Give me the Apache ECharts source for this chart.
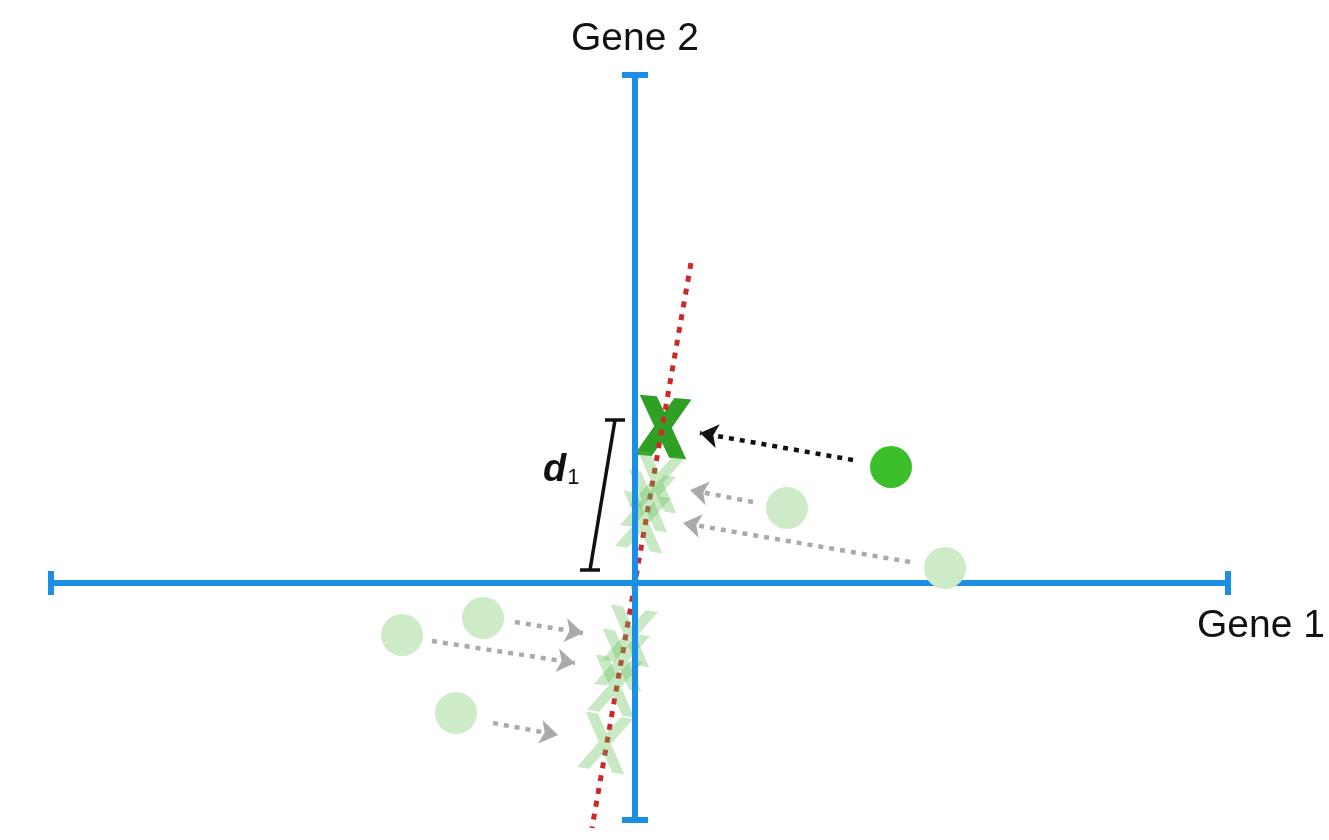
<!DOCTYPE html>
<html>
<head>
<meta charset="utf-8">
<script src="https://cdn.jsdelivr.net/npm/echarts@6/dist/echarts.min.js"></script>
<style>
html,body{margin:0;padding:0;background:#fff;}
#chart{width:1329px;height:840px;}
</style>
</head>
<body>
<div id="chart"></div>
<script>
// ---- data (Gene 1 / Gene 2 expression units) ----
const axisExtentGene1 = [-58.4, 59.3];
const axisExtentGene2 = [-23.7, 50.8];
const capHalf = [1.2, 1.3];
const pcLine = [[5.6, 32.0], [-4.3, -24.5]];
const highlightPoint = [[25.6, 11.6]];
const otherPoints = [[15.2, 7.5], [31.0, 1.5], [-15.2, -3.5], [-23.3, -5.2], [-17.9, -13.0]];
const highlightProj = [[2.8, 15.6]];
const otherProj = [[2.2, 10.1], [1.3, 8.2], [0.8, 6.1], [-0.5, -5.3], [-1.3, -7.7], [-2.0, -10.3], [-3.0, -16.0]];
const highlightArrow = [[[21.8, 12.3], [6.5, 15.0]]];
const otherArrows = [
  [[11.8, 8.1], [5.5, 9.3]],
  [[27.5, 2.1], [4.8, 6.0]],
  [[-12.0, -3.9], [-5.2, -5.0]],
  [[-20.3, -5.8], [-6.0, -8.0]],
  [[-14.2, -14.0], [-7.7, -15.2]]
];
const distanceBracket = [[-2.0, 16.3], [-4.5, 1.3]];
const bracketCapHalf = 1.0;
const labelGene1 = 'Gene 1';
const labelGene2 = 'Gene 2';

// ---- build ----
const blue = '#1b8fe6';
const axisSegs = [
  [[axisExtentGene1[0], 0], [axisExtentGene1[1], 0]],
  [[0, axisExtentGene2[0]], [0, axisExtentGene2[1]]],
  [[axisExtentGene1[0], -capHalf[0]], [axisExtentGene1[0], capHalf[0]]],
  [[axisExtentGene1[1], -capHalf[0]], [axisExtentGene1[1], capHalf[0]]],
  [[-capHalf[1], axisExtentGene2[0]], [capHalf[1], axisExtentGene2[0]]],
  [[-capHalf[1], axisExtentGene2[1]], [capHalf[1], axisExtentGene2[1]]]
];
const b0 = distanceBracket[0], b1 = distanceBracket[1];
const bracketSegs = [
  [b0, b1],
  [[b0[0] - bracketCapHalf, b0[1]], [b0[0] + bracketCapHalf, b0[1]]],
  [[b1[0] - bracketCapHalf, b1[1]], [b1[0] + bracketCapHalf, b1[1]]]
];
const xPathBold = 'path://M0,0 L33,0 L50,25 L67,0 L100,0 L67,50 L100,100 L67,100 L50,75 L33,100 L0,100 L33,50 Z';
const xPathLight = 'path://M0,0 L26,0 L50,32 L74,0 L100,0 L63,50 L100,100 L74,100 L50,68 L26,100 L0,100 L37,50 Z';
const font = 'Liberation Sans, Arial, Helvetica, sans-serif';

const chart = echarts.init(document.getElementById('chart'));
chart.setOption({
  animation: false,
  backgroundColor: '#fff',
  grid: {left: 0, right: 0, top: 0, bottom: 0},
  xAxis: {type: 'value', min: -63.5, max: 69.4, show: false},
  yAxis: {type: 'value', min: -25.7, max: 58.3, show: false},
  graphic: [
    {type: 'text', x: 635, y: 39, style: {text: labelGene2, fontSize: 39, fontFamily: font, fill: '#111', align: 'center', verticalAlign: 'middle'}},
    {type: 'text', x: 1197, y: 626, style: {text: labelGene1, fontSize: 39, fontFamily: font, fill: '#111', align: 'left', verticalAlign: 'middle'}},
    {type: 'text', x: 543, y: 490, style: {
      text: '{d|d}{s|1}', fill: '#111', verticalAlign: 'bottom',
      rich: {
        d: {fontSize: 38, fontWeight: 'bold', fontStyle: 'italic', fontFamily: font, fill: '#111', verticalAlign: 'bottom'},
        s: {fontSize: 22, fontFamily: font, fill: '#111', verticalAlign: 'bottom', padding: [0, 0, 1, 1]}
      }
    }}
  ],
  series: [
    {type: 'scatter', z: 1, data: highlightProj, symbol: xPathBold, symbolSize: [52, 60], symbolRotate: -5,
      itemStyle: {color: '#2fa023', opacity: 1}},
    {type: 'lines', coordinateSystem: 'cartesian2d', z: 2,
      data: [{coords: pcLine}],
      lineStyle: {color: '#cc2a2a', width: 5, type: [6, 7], opacity: 1}},
    {type: 'scatter', z: 3, data: otherProj, symbol: xPathLight, symbolSize: [48, 56], symbolRotate: -9,
      itemStyle: {color: '#5cbc50', opacity: 0.33}},
    {type: 'lines', coordinateSystem: 'cartesian2d', z: 4,
      data: axisSegs.map(c => ({coords: c})),
      lineStyle: {color: blue, width: 6, opacity: 1}},
    {type: 'scatter', z: 5, data: otherPoints, symbolSize: 42,
      itemStyle: {color: '#cdebc6', opacity: 1}},
    {type: 'scatter', z: 5, data: highlightPoint, symbolSize: 42,
      itemStyle: {color: '#3dbf2c', opacity: 1}},
    {type: 'lines', coordinateSystem: 'cartesian2d', z: 6,
      data: otherArrows.map(c => ({coords: c})),
      symbol: ['none', 'arrow'], symbolSize: 18,
      lineStyle: {color: '#aaaaaa', width: 4.5, type: [5, 6], opacity: 1}},
    {type: 'lines', coordinateSystem: 'cartesian2d', z: 6,
      data: highlightArrow.map(c => ({coords: c})),
      symbol: ['none', 'arrow'], symbolSize: 18,
      lineStyle: {color: '#111', width: 4.5, type: [5, 6], opacity: 1}},
    {type: 'lines', coordinateSystem: 'cartesian2d', z: 6,
      data: bracketSegs.map(c => ({coords: c})),
      lineStyle: {color: '#111', width: 3.5, opacity: 1}}
  ]
});
</script>
</body>
</html>
